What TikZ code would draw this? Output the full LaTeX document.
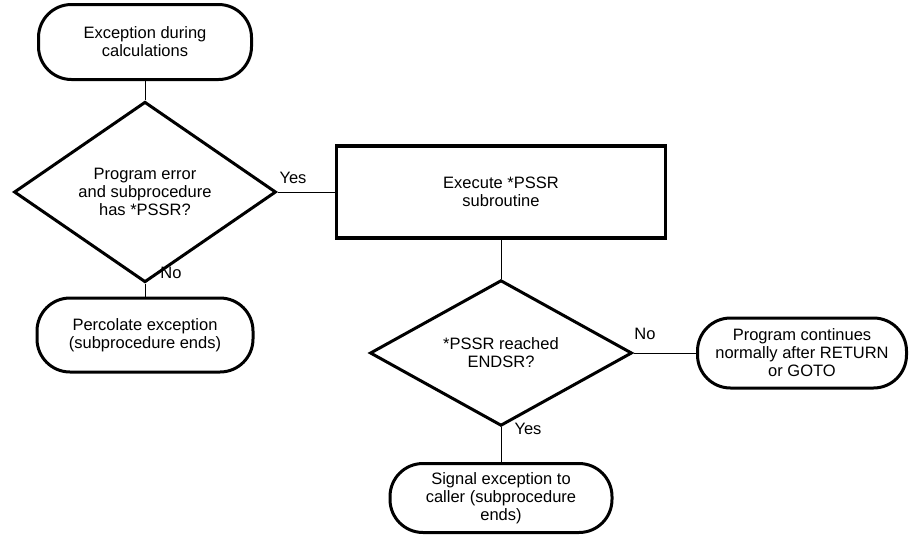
\documentclass[tikz,border=0pt]{standalone}
\usepackage{fontspec}
\setmainfont{Liberation Sans}
\usetikzlibrary{shapes.geometric}
\begin{document}
\begin{tikzpicture}[x=1pt,y=-1pt,
  font=\fontsize{16.5}{18}\selectfont,
  term/.style={draw,line width=3pt,rounded corners=33pt,inner sep=0pt,align=center},
  decision/.style={draw,shape=diamond,line width=3pt,minimum width=262pt,minimum height=131pt,inner sep=0pt,align=center},
  process/.style={draw,rectangle,line width=3.2pt,minimum width=329pt,minimum height=92pt,inner sep=0pt,align=center},
  conn/.style={line width=1pt},
  lbl/.style={inner sep=0pt}
]
\useasboundingbox[fill=white] (0,0) rectangle (910,536);

\node[term,minimum width=213pt,minimum height=75pt] (start) at (145,42) {Exception during\\calculations};
\node[decision] (d1) at (145,192) {Program error\\and subprocedure\\has *PSSR?};
\node[process] (pssr) at (501,192) {Execute *PSSR\\subroutine};
\node[term,minimum width=216pt,minimum height=74pt] (perc) at (145,335) {Percolate exception\\(subprocedure ends)};
\node[decision] (d2) at (501,353) {*PSSR reached\\ENDSR?};
\node[term,minimum width=209pt,minimum height=70pt] (cont) at (802,353) {Program continues\\normally after RETURN\\or GOTO};
\node[term,minimum width=222pt,minimum height=69pt] (sig) at (501,498) {Signal exception to\\caller (subprocedure\\ends)};

\draw[conn] (start) -- (d1);
\draw[conn] (d1) -- (pssr);
\draw[conn] (d1) -- (perc);
\draw[conn] (pssr) -- (d2);
\draw[conn] (d2) -- (cont);
\draw[conn] (d2) -- (sig);

\node[lbl] (yes1) at (293,178) {Yes};
\node[lbl] (no1) at (171,273) {No};
\node[lbl] (no2) at (645,334) {No};
\node[lbl] (yes2) at (528,429) {Yes};
\end{tikzpicture}
\end{document}
